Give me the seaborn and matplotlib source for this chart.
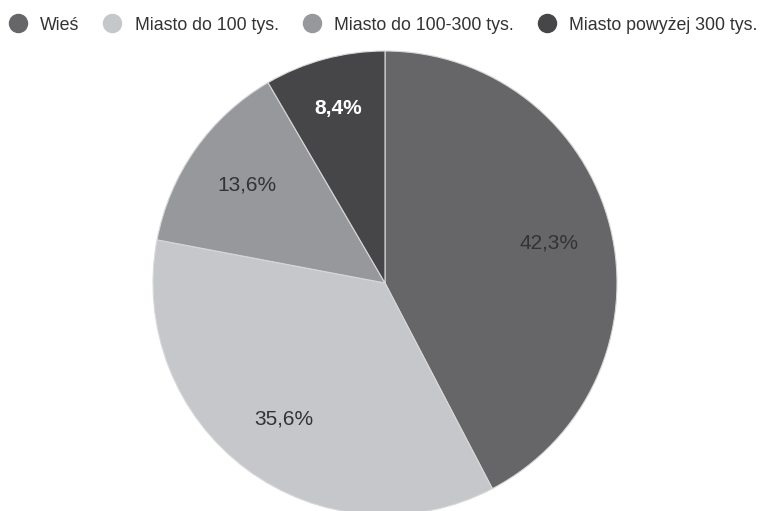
import matplotlib
matplotlib.use("Agg")
import matplotlib.pyplot as plt
import seaborn as sns
import numpy as np
from matplotlib.lines import Line2D

sns.set_theme(style="white")
plt.rcParams["font.family"] = ["Liberation Sans", "DejaVu Sans"]

# dane
kategorie = ["Wieś", "Miasto do 100 tys.", "Miasto do 100-300 tys.", "Miasto powyżej 300 tys."]
udzialy = [42.3, 35.6, 13.6, 8.4]
etykiety = ["42,3%", "35,6%", "13,6%", "8,4%"]
kolory = sns.color_palette(["#666669", "#c6c7cb", "#97989c", "#464649"])

fig = plt.figure(figsize=(7.62, 5.11), dpi=100)
ax = fig.add_axes([0, 0, 1, 1])

wedges, texts = ax.pie(udzialy, colors=kolory, startangle=90, counterclock=False,
                       radius=1.0, wedgeprops=dict(edgecolor="#d8d8d8", linewidth=0.8))

# podpisy procentowe
for w, lab in zip(wedges, etykiety):
    th = np.deg2rad((w.theta1 + w.theta2) / 2)
    r = 0.78 if lab == "8,4%" else 0.73
    kolor = "white" if lab == "8,4%" else "#333333"
    waga = "bold" if lab == "8,4%" else "normal"
    ax.text(r * np.cos(th), r * np.sin(th), lab, ha="center", va="center",
            fontsize=15, color=kolor, fontweight=waga)

# pie o promieniu 232 px, srodek (385, 283)
R = 232.0
ax.set_xlim(-385 / R, (762 - 385) / R)
ax.set_ylim(-(511 - 283) / R, 283 / R)
ax.set_aspect("auto")
ax.axis("off")

uchwyty = [Line2D([], [], marker="o", linestyle="", markersize=13, color=c) for c in kolory]
fig.legend(uchwyty, kategorie, loc="center left", bbox_to_anchor=(6 / 762, 1 - 25 / 511), ncol=4,
           frameon=False, fontsize=12.8, handlelength=0.9, handletextpad=0.8,
           columnspacing=1.42, borderaxespad=0.0, borderpad=0.2, labelcolor="#333333")

fig.savefig("out.png", dpi=100, facecolor="white")
